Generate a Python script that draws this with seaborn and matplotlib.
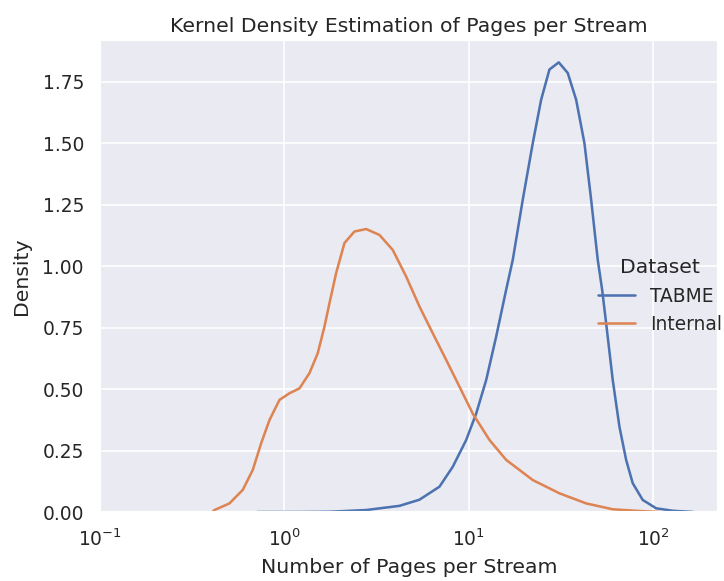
import pandas as pd
import seaborn as sns
import matplotlib
matplotlib.use("Agg")
import matplotlib.pyplot as plt

# density curves (x = pages per stream, log scale)
tabme_pages = [0.714, 1.206, 1.754, 2.772, 4.20, 5.39, 6.92, 8.17, 9.66, 10.94, 12.40, 14.04,
               15.91, 17.28, 19.57, 22.17, 24.62, 27.31, 30.67, 34.31, 38.11, 42.27, 45.96,
               49.90, 52.72, 55.41, 60.17, 65.42, 71.12, 77.23, 87.50, 103.4, 127.2, 164.8]
tabme_density = [0.0, 0.0, 0.001, 0.008, 0.025, 0.05, 0.103, 0.184, 0.293, 0.40, 0.537, 0.713,
                 0.904, 1.026, 1.27, 1.50, 1.677, 1.80, 1.829, 1.786, 1.677, 1.50, 1.27,
                 1.026, 0.904, 0.768, 0.537, 0.347, 0.212, 0.117, 0.049, 0.015, 0.005, 0.0]

internal_pages = [0.407, 0.4174, 0.5033, 0.5943, 0.6731, 0.7478, 0.8292, 0.9395, 1.0644,
                  1.206, 1.3665, 1.515, 1.647, 1.754, 1.906, 2.114, 2.395, 2.772, 3.273,
                  3.864, 4.566, 5.392, 6.366, 7.522, 8.882, 10.49, 12.92, 15.91, 22.17,
                  30.94, 43.17, 60.17, 83.97, 107.8]
internal_density = [0.0, 0.008, 0.035, 0.09, 0.171, 0.28, 0.374, 0.456, 0.483, 0.503, 0.565,
                    0.646, 0.754, 0.85, 0.972, 1.094, 1.141, 1.151, 1.127, 1.066, 0.958,
                    0.836, 0.727, 0.619, 0.51, 0.40, 0.293, 0.212, 0.130, 0.076, 0.035,
                    0.011, 0.004, 0.0]

df = pd.concat([
    pd.DataFrame({"pages": tabme_pages, "density": tabme_density, "Dataset": "TABME"}),
    pd.DataFrame({"pages": internal_pages, "density": internal_density, "Dataset": "Internal"}),
])

sns.set_theme(style="darkgrid")

dpi = 122
fig = plt.figure(figsize=(724 / dpi, 581 / dpi), dpi=dpi)
ax = fig.add_axes([100 / 724, 1 - 512 / 581, 618 / 724, 472 / 581])

sns.lineplot(data=df, x="pages", y="density", hue="Dataset", hue_order=["TABME", "Internal"],
             estimator=None, sort=True, ax=ax)
ax.set_xscale("log")
ax.set_xlim(0.1, 10 ** 2.35)
ax.set_ylim(0, 1.92)
ax.set_xlabel("Number of Pages per Stream", labelpad=5)
ax.set_ylabel("Density", labelpad=7)
ax.set_title("Kernel Density Estimation of Pages per Stream", pad=4.5)

sns.move_legend(ax, "center left", bbox_to_anchor=(581 / 724, 1 - 296 / 581),
                bbox_transform=fig.transFigure, frameon=False, title="Dataset")

fig.savefig("out.png", dpi=dpi)
